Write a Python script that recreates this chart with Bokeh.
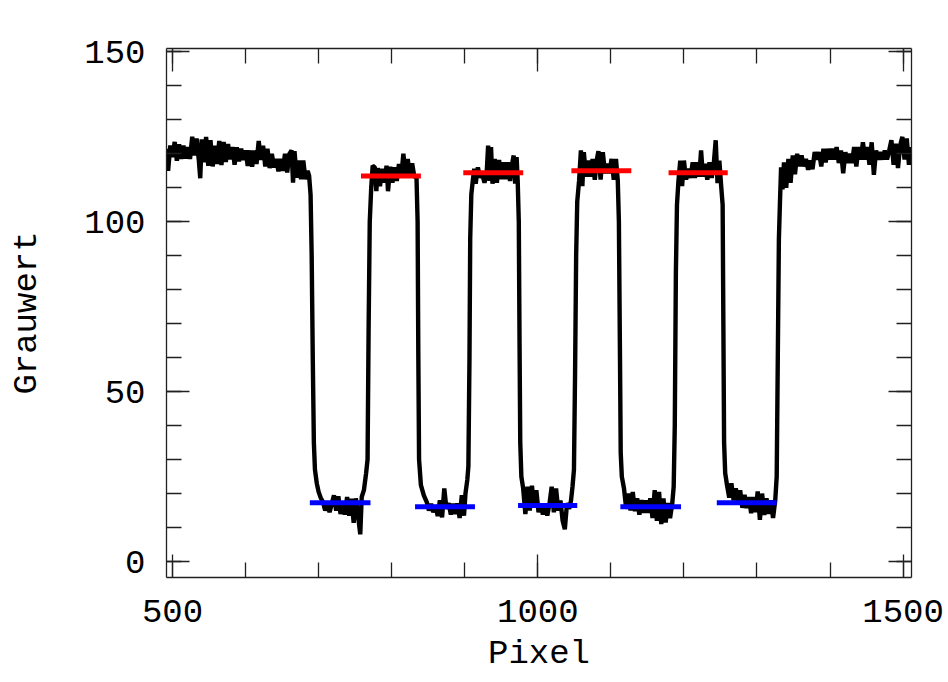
from bokeh.plotting import figure
from bokeh.models import LinearAxis, SingleIntervalTicker, Range1d, CustomLabelingPolicy
from bokeh.embed import file_html
from bokeh.resources import INLINE

# ---- data ----
pixel = [
    492, 494, 497, 500, 503, 506, 509, 512, 515, 518, 521, 524, 527, 530, 533, 536, 538, 540, 543, 546,
    549, 552, 555, 558, 561, 564, 567, 570, 573, 576, 579, 582, 585, 588, 591, 594, 597, 600, 603, 606,
    609, 612, 615, 618, 621, 624, 627, 630, 633, 636, 639, 642, 645, 648, 651, 654, 657, 660, 663, 665,
    667, 670, 673, 676, 679, 682, 685, 687, 689, 690.5, 692, 693.5, 695, 697.5, 700, 703,
    706, 709, 712, 715, 718, 721, 724, 727, 730, 733, 736, 739, 742, 745, 748, 751, 754, 757, 759, 762,
    765, 767, 768.5, 770, 772, 774,
    777, 779, 781, 784, 787, 790, 793, 795, 798, 801, 804, 807, 810, 813, 816, 819, 822, 825, 828, 831,
    834, 835.5, 836.5, 837.5, 840, 844, 848,
    851, 854, 857, 860, 863, 866, 869, 872, 875, 878, 881, 884, 887, 890, 893, 896, 899, 901, 903.5, 905,
    906.5, 907.5, 909, 911,
    913, 915, 918, 921, 924, 927, 930, 932, 934, 936, 938, 941, 944, 947, 950, 953, 956, 959, 962, 965,
    967, 969, 971, 972.5, 974, 975, 976, 977.5, 980,
    983, 986, 989, 992, 995, 998, 1001, 1004, 1007, 1010, 1013, 1016, 1019, 1022, 1025, 1028, 1031, 1034,
    1037, 1040, 1043, 1045.5, 1047.5, 1049.5, 1051, 1052.5, 1054, 1056.5,
    1059, 1061, 1063, 1066, 1069, 1072, 1075, 1078, 1081, 1083, 1086, 1089, 1092, 1095, 1098, 1101, 1104,
    1107, 1109.5, 1111, 1112.5, 1113.5, 1115, 1118,
    1121, 1124, 1127, 1130, 1133, 1136, 1139, 1142, 1145, 1148, 1151, 1154, 1157, 1160, 1163, 1166, 1169,
    1172, 1175, 1178, 1181, 1184, 1186, 1187.5, 1189, 1190.5, 1192.5,
    1195, 1197.5, 1200, 1203, 1206, 1209, 1212, 1215, 1218, 1221, 1223.5, 1226, 1229, 1232, 1235, 1238,
    1241, 1243.5, 1246, 1248.5, 1251, 1253, 1254, 1255, 1256.5, 1259,
    1262, 1265, 1268, 1271, 1274, 1277, 1280, 1283, 1286, 1289, 1292, 1295, 1298, 1301, 1304, 1307, 1310,
    1313, 1316, 1319, 1322, 1325, 1327, 1328.5, 1330, 1331.5,
    1333, 1335, 1337, 1340, 1343, 1346, 1349, 1352, 1355, 1358, 1361, 1364, 1367, 1370, 1373, 1376, 1379,
    1382, 1385, 1388, 1391, 1394, 1397, 1400, 1403, 1406, 1409, 1412, 1415, 1418, 1421, 1424, 1427, 1430,
    1433, 1436, 1439, 1442, 1445, 1448, 1451, 1454, 1457, 1460, 1463, 1466, 1469, 1472, 1475, 1478, 1481,
    1484, 1487, 1490, 1493, 1496, 1499, 1502, 1505, 1508, 1511,
]
grauwert = [
    121.5, 115, 122.5, 119, 123.5, 118, 122.8, 118.5, 122.4, 118.6, 122, 118.5, 125, 119.5, 124.5, 118.2, 112.8, 124.3, 117.5, 125,
    116.5, 124, 116.3, 122.4, 117, 123.8, 116.7, 123.5, 117.6, 122.9, 118.4, 122, 116.8, 121.9, 117.8, 121.5, 118.2, 121, 116.4, 121,
    116.2, 121, 117, 123.8, 118.2, 122.4, 116.3, 121.5, 115.8, 120, 116, 118.5, 114.8, 118.5, 115, 120, 114.5, 120, 121, 111.5,
    120.8, 113, 118, 112.5, 118, 112.5, 115, 113.5, 108, 90, 60, 35, 27, 23, 20.5, 18.7,
    17.5, 15, 17.2, 14.5, 17, 19.5, 15, 19.2, 14, 17.3, 13.8, 19, 13.5, 18.5, 11.4, 18.6, 13.5, 8, 19, 21,
    26, 30, 70, 100, 110, 116.5,
    116, 109, 115.8, 110.5, 115.6, 111.5, 116.5, 109, 116.2, 111.5, 116, 112, 117, 113, 120, 114, 118.5, 113.4, 117.2, 113.3,
    113, 100, 60, 30, 22.5, 19.5, 17.5,
    15, 17, 14.5, 16.6, 13.4, 18, 13, 21.5, 15.5, 17.2, 13.8, 17, 14, 17.1, 12.8, 19.5, 13.5, 20, 24, 28,
    60, 95, 108, 112,
    115.6, 111.2, 116, 113, 114, 111.5, 114.2, 122.4, 112, 122, 111.2, 118.5, 111.5, 118.2, 112.5, 117.5, 112.5, 117.5, 112, 117.2,
    119.5, 111.2, 119, 112, 100, 65, 35, 25, 21.5,
    14, 22, 15, 22.3, 16, 21, 14.5, 17, 13.8, 17, 13.5, 17, 22, 14.5, 21.5, 15, 18, 12,
    9.5, 17.2, 15.5, 18, 22, 27, 55, 90, 106, 112,
    121, 110.5, 120.5, 113.3, 118, 113.3, 118.5, 112.4, 118.5, 120.8, 112.4, 120.5, 114.3, 117.1, 114.3, 118.5, 112.4,
    118.5, 112, 100, 60, 32, 25, 21.5,
    15.5, 20, 15, 20.5, 14.8, 18.6, 13.8, 18.1, 14.3, 18, 14.3, 18.6, 12.8, 21, 12, 20.5, 11,
    18.6, 11.5, 17.2, 12.8, 17, 22, 40, 85, 105, 112,
    118, 110.5, 118, 112.4, 115.6, 112.9, 117.5, 112.9, 117.5, 113.3, 121, 113.3, 117.1, 112.4, 117.5, 112.9,
    117.5, 124, 111.4, 118, 110.5, 105, 70, 35, 26, 22.5,
    18.8, 23, 18, 21.5, 17.7, 21, 15.8, 19.6, 15.7, 19, 14.2, 19, 14.5, 20.6, 12.3, 20, 13.7,
    18.6, 14, 18, 12.8, 18, 25, 60, 95, 106,
    116, 109.5, 117.5, 110, 118.5, 111.5, 119.5, 114, 120, 116.3, 119.5, 116.3, 118.5, 115.3, 118, 115.5, 120.5,
    118.3, 120.5, 116.3, 121.5, 117.5, 121.5, 118.3, 121.5, 118.3, 122, 117.3, 121, 114.3, 120.5, 117.3, 120, 117.3,
    122, 116.3, 122, 118.3, 123.4, 118.3, 122, 116.8, 123.4, 113.8, 121, 118.3, 120.5, 118.3, 121, 118.3, 121,
    124, 116.8, 123, 115.8, 122.5, 125, 118.3, 124.5, 116.8, 122,
]

# plateau levels (red) and trough levels (blue)
red_start = [758, 898, 1046, 1179]
red_end = [840, 980, 1128, 1260]
red_level = [113.5, 114.4, 115.0, 114.4]

blue_start = [688, 832, 973, 1113, 1245]
blue_end = [771, 914, 1054, 1196, 1327]
blue_level = [17.3, 16.1, 16.5, 16.1, 17.3]

x_label = "Pixel"
y_label = "Grauwert"

FONT = "Liberation Mono"
FS = "34px"

p = figure(width=948, height=682, output_backend="svg", toolbar_location=None,
           x_range=Range1d(491.8, 1511.5), y_range=Range1d(-4.7, 151.0),
           x_axis_location=None, y_axis_location=None,
           min_border_left=166, min_border_right=37, min_border_top=48, min_border_bottom=105)
p.background_fill_color = "white"
p.border_fill_color = "white"
p.outline_line_color = None
p.xgrid.visible = False
p.ygrid.visible = False

no_labels = CustomLabelingPolicy(code="""
    for (const i of Array.from(indices)) { indices.unset(i) }
    return indices
""")


def style_axis(ax, show_labels):
    ax.axis_line_color = "#202020"
    ax.axis_line_width = 1.3
    ax.major_tick_line_color = "#202020"
    ax.minor_tick_line_color = "#202020"
    ax.major_tick_line_width = 1.3
    ax.minor_tick_line_width = 1.3
    ax.major_tick_in = 23
    ax.major_tick_out = 0
    ax.minor_tick_in = 15
    ax.minor_tick_out = 0
    ax.major_label_text_font = FONT
    ax.axis_label_text_font = FONT
    ax.axis_label_text_font_style = "normal"
    ax.major_label_text_color = "black"
    ax.axis_label_text_color = "black"
    if show_labels:
        ax.major_label_text_font_size = FS
        ax.axis_label_text_font_size = FS
    else:
        ax.major_label_text_font_size = "0px"
        ax.major_label_standoff = 0
        ax.major_label_policy = no_labels


xb = LinearAxis(ticker=SingleIntervalTicker(interval=500, num_minor_ticks=5), axis_label=x_label)
style_axis(xb, True)
xb.major_label_standoff = 22
xb.axis_label_standoff = 10
p.add_layout(xb, "below")

xa = LinearAxis(ticker=SingleIntervalTicker(interval=500, num_minor_ticks=5))
style_axis(xa, False)
p.add_layout(xa, "above")

yl = LinearAxis(ticker=SingleIntervalTicker(interval=50, num_minor_ticks=5), axis_label=y_label)
style_axis(yl, True)
yl.major_label_standoff = 21
yl.axis_label_standoff = 35
p.add_layout(yl, "left")

yr = LinearAxis(ticker=SingleIntervalTicker(interval=50, num_minor_ticks=5))
style_axis(yr, False)
p.add_layout(yr, "right")

p.line(pixel, grauwert, line_color="black", line_width=4.4)
p.segment(x0=red_start, y0=red_level, x1=red_end, y1=red_level,
          line_color="#ff0000", line_width=5)
p.segment(x0=blue_start, y0=blue_level, x1=blue_end, y1=blue_level,
          line_color="#0000ff", line_width=5)

open("out.html", "w").write(file_html(p, INLINE))
